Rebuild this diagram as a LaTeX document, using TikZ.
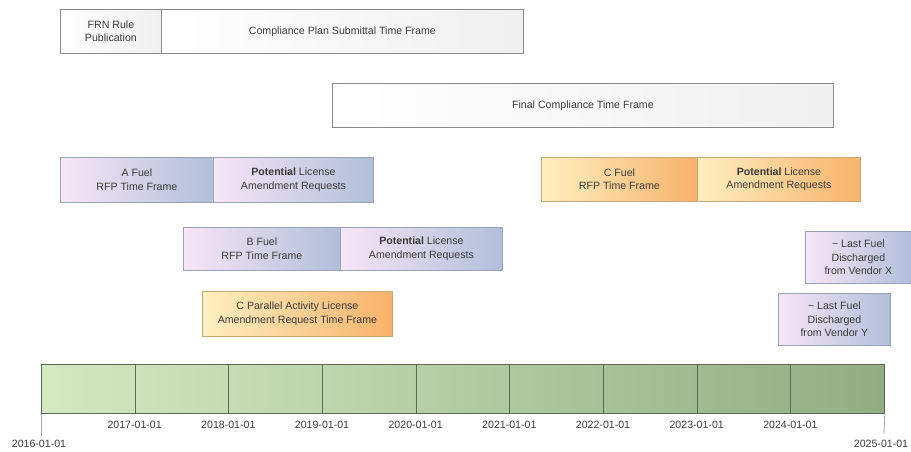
\documentclass[tikz,border=0pt]{standalone}
\usepackage{fontspec}
\setmainfont{Liberation Sans}
\definecolor{txt}{HTML}{3A3A3A}
\definecolor{gborder}{HTML}{8A8A8A}
\definecolor{pborder}{HTML}{9AA2BE}
\definecolor{oborder}{HTML}{C8A878}
\definecolor{tborder}{HTML}{5E6858}
\definecolor{pleft}{HTML}{F6E6F6}
\definecolor{pright}{HTML}{B2BEDA}
\definecolor{oleft}{HTML}{FEEFC0}
\definecolor{oright}{HTML}{F8B26A}
\begin{document}
\begin{tikzpicture}[x=1pt,y=-1pt,
  lbl/.style={font=\fontsize{10.6}{13.6}\selectfont, text=txt, align=center},
  bx/.style={lbl, anchor=north west, inner sep=0pt, line width=0.8pt},
  graybox/.style={bx, draw=gborder, left color=white, right color=gray!12},
  purplebox/.style={bx, draw=pborder, left color=pleft, right color=pright},
  orangebox/.style={bx, draw=oborder, left color=oleft, right color=oright},
  seg/.style={anchor=north west, inner sep=0pt, draw=tborder, line width=0.7pt, minimum width=93.67pt, minimum height=49pt},
  tick/.style={draw=gray!70, line width=0.8pt},
  yr/.style={lbl}
]
\useasboundingbox (0,0) rectangle (911,451);
% top gray boxes
\node[graybox, minimum width=101pt, minimum height=44pt] (frn) at (60,9) {FRN Rule\\Publication};
\node[graybox, minimum width=362pt, minimum height=44pt] (cps) at (161,9) {Compliance Plan Submittal Time Frame};
\node[graybox, minimum width=501pt, minimum height=44pt] (fct) at (332,83) {Final Compliance Time Frame};
% A fuel
\node[purplebox, minimum width=153pt, minimum height=45pt] (afuel) at (60,157) {A Fuel\\RFP Time Frame};
\node[purplebox, minimum width=160pt, minimum height=45pt] (alar) at (213,157) {\textbf{Potential} License\\Amendment Requests};
% C fuel
\node[orangebox, minimum width=156pt, minimum height=44pt] (cfuel) at (541,157) {C Fuel\\RFP Time Frame};
\node[orangebox, minimum width=163pt, minimum height=44pt] (clar) at (697,157) {\textbf{Potential} License\\Amendment Requests};
% B fuel
\node[purplebox, minimum width=157pt, minimum height=43pt] (bfuel) at (183,227) {B Fuel\\RFP Time Frame};
\node[purplebox, minimum width=162pt, minimum height=43pt] (blar) at (340,227) {\textbf{Potential} License\\Amendment Requests};
% C parallel
\node[orangebox, minimum width=190pt, minimum height=45pt] (cpar) at (202,291) {C Parallel Activity License\\Amendment Request Time Frame};
% last fuel
\node[purplebox, minimum width=106pt, minimum height=52pt] (lfx) at (805,231) {\textasciitilde{} Last Fuel\\Discharged\\from Vendor X};
\node[purplebox, minimum width=112pt, minimum height=52pt] (lfy) at (778,293) {\textasciitilde{} Last Fuel\\Discharged\\from Vendor Y};
% timeline
\foreach \i/\la/\lb in {0/D4E8C2/CCE2BA,1/CCE2BA/C5DCB3,2/C5DCB3/BED6AC,3/BED6AC/B6CFA5,4/B6CFA5/AFC99E,5/AFC99E/A8C297,6/A8C297/A1BB90,7/A1BB90/9AB48A,8/9AB48A/94AE84}{
  \definecolor{ca}{HTML}{\la}\definecolor{cb}{HTML}{\lb}
  \node[seg, left color=ca, right color=cb] (s\i) at (41+93.67*\i,364) {};
}
\coordinate (t0) at (41,436);
\coordinate (t9) at (884,434);
\draw[tick] (s0.south west) -- (t0);
\draw[tick] (s8.south east) -- (t9);
\foreach \i/\y in {1/2017,2/2018,3/2019,4/2020,5/2021,6/2022,7/2023,8/2024}{
  \node[yr] (y\y) at (41+93.67*\i,425) {\y-01-01};
}
\node[yr] (y2016) at (39,444) {2016-01-01};
\node[yr] (y2025) at (881,444) {2025-01-01};
\end{tikzpicture}
\end{document}
